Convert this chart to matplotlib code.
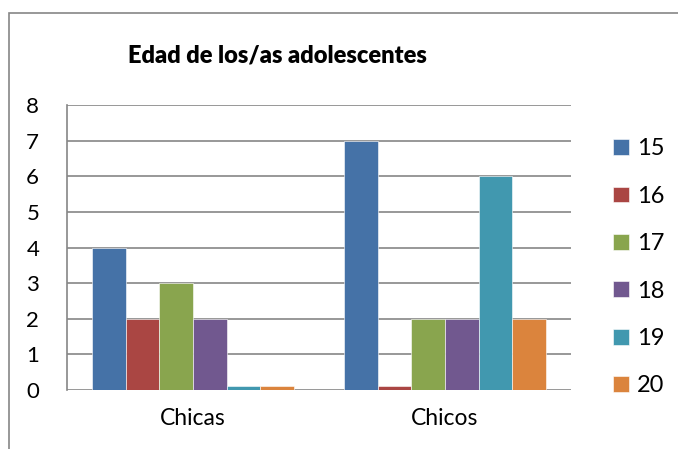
import numpy as np
import matplotlib
matplotlib.use("Agg")
import matplotlib.pyplot as plt
from matplotlib.patches import Rectangle

plt.rcParams['font.family'] = ['Lato', 'DejaVu Sans']

# datos
categories = ["Chicas", "Chicos"]
ages = ["15", "16", "17", "18", "19", "20"]
values = {
    "15": [4, 7],
    "16": [2, 0.1],
    "17": [3, 2],
    "18": [2, 2],
    "19": [0.1, 6],
    "20": [0.1, 2],
}
colors = ["#4572A7", "#AA4643", "#89A54E", "#71588F", "#4198AF", "#DB843D"]

W, H = 678, 449
fig = plt.figure(figsize=(W / 100, H / 100), dpi=100)

# marco exterior (abierto a la derecha y abajo)
fig.patches.append(Rectangle((9 / W, -0.1), 1.2, (H - 13) / H + 0.1,
                             transform=fig.transFigure, fill=False,
                             edgecolor="#868686", linewidth=1.2))

ax = fig.add_axes([67 / W, (H - 390) / H, (571 - 67) / W, (390 - 105) / H])

x = np.arange(len(categories))
bw = 0.8 / len(ages)
for i, age in enumerate(ages):
    offs = (i - (len(ages) - 1) / 2) * bw
    ax.bar(x + offs, values[age], width=bw, color=colors[i], label=age,
           edgecolor="white", linewidth=0.4, zorder=3)

ax.set_xlim(-0.5, len(categories) - 0.5)
ax.set_ylim(0, 8)
ax.set_yticks(range(0, 9))
ax.set_xticks(x)
ax.set_xticklabels(categories)
ax.tick_params(axis="y", length=0, pad=20, labelsize=16)
ax.tick_params(axis="x", length=0, pad=13, labelsize=16.5)
ax.grid(axis="y", color="#868686", linewidth=1.2, zorder=0)
for s in ["top", "right", "bottom"]:
    ax.spines[s].set_visible(False)
ax.spines["left"].set_color("#868686")
ax.spines["left"].set_linewidth(1.2)

fig.text(277 / W, 1 - 56 / H, "Edad de los/as adolescentes", ha="center",
         va="center", fontsize=17, fontweight="heavy")

fig.legend(loc="upper left", bbox_to_anchor=(592 / W, 1 - 117 / H),
           frameon=False, fontsize=17, handlelength=0.65, handleheight=0.65,
           handletextpad=0.35, labelspacing=1.12)

fig.savefig("out.png", dpi=100)
